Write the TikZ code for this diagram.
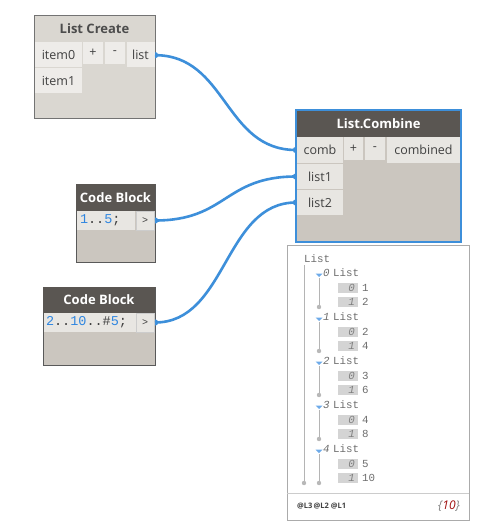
\documentclass[tikz,border=0pt]{standalone}
\usepackage{fontspec}
\setmainfont{Open Sans}
\newfontfamily\monof{Liberation Mono}
\usetikzlibrary{calc}
\definecolor{wire}{HTML}{3D8FDA}
\definecolor{darkhead}{HTML}{5A5652}
\definecolor{selbody}{HTML}{CBC6BF}
\definecolor{lightbody}{HTML}{DAD7D1}
\definecolor{cellc}{HTML}{E8E6E2}
\definecolor{lcell}{HTML}{EEECE9}
\definecolor{codeblue}{HTML}{2F86E0}
\definecolor{wgray}{HTML}{6E6E6E}
\definecolor{wline}{HTML}{B4B4B4}
\definecolor{idxbox}{HTML}{D4D4D4}
\definecolor{dred}{HTML}{A01010}
\tikzset{
  box/.style={anchor=north west, inner sep=0pt, outer sep=0pt},
  celltxt/.style={box, font=\fontsize{12.5}{15}\selectfont, text=black!75},
  title/.style={box, font=\fontsize{13}{15}\selectfont\bfseries},
  code/.style={box, font=\monof\fontsize{13.5}{15}\selectfont, text=black!75},
  wtxt/.style={anchor=west, inner sep=0pt, font=\monof\fontsize{10.8}{12}\selectfont, text=wgray},
  widx/.style={anchor=east, inner sep=0pt, font=\monof\itshape\fontsize{10.8}{12}\selectfont, text=gray},
  wirestyle/.style={draw=wire, line width=2.6pt},
  portdot/.style={fill=wire},
}
\begin{document}
\begin{tikzpicture}[x=1pt,y=-1pt]
\useasboundingbox (0,0) rectangle (496,532);
\fill[white] (0,0) rectangle (496,532);

% ---------- List Create ----------
\node[box, fill=lightbody, draw=black!55, line width=0.8pt, minimum width=121pt, minimum height=103pt] (lc) at (34,15) {};
\node[title, minimum width=121pt, minimum height=27pt, text=black!70] (lcT) at (34,15) {List Create};
\node[celltxt, fill=lcell, minimum width=47pt, minimum height=25pt] (lcI0) at (35,42) {item0};
\node[celltxt, fill=lcell, minimum width=20pt, minimum height=22pt] (lcP) at (83,42) {+};
\node[celltxt, fill=lcell, minimum width=20pt, minimum height=22pt] (lcM) at (105,42) {-};
\node[celltxt, fill=lcell, minimum width=28pt, minimum height=25pt] (lcO) at (126.5,42) {list};
\node[celltxt, fill=lcell, minimum width=47pt, minimum height=25pt] (lcI1) at (35,68) {item1};

% ---------- List.Combine ----------
\node[box, fill=selbody, draw=wire, line width=2pt, minimum width=165pt, minimum height=132pt] (cb) at (296,110) {};
\node[title, fill=darkhead, text=white, minimum width=163pt, minimum height=26pt] (cbT) at (297,111) {List.Combine};
\node[celltxt, fill=cellc, minimum width=46pt, minimum height=26pt] (cbC) at (297,137) {comb};
\node[celltxt, fill=cellc, minimum width=19pt, minimum height=23pt] (cbP) at (344,137) {+};
\node[celltxt, fill=cellc, minimum width=20pt, minimum height=23pt] (cbM) at (365,137) {-};
\node[celltxt, fill=cellc, minimum width=73pt, minimum height=26pt] (cbO) at (387,137) {combined};
\node[celltxt, fill=cellc, minimum width=46pt, minimum height=25pt] (cbL1) at (297,164) {list1};
\node[celltxt, fill=cellc, minimum width=46pt, minimum height=25pt] (cbL2) at (297,190) {list2};

% ---------- Code Block 1 ----------
\node[box, fill=selbody, draw=black!65, line width=0.8pt, minimum width=79pt, minimum height=78pt] (c1) at (76,184) {};
\node[title, fill=darkhead, text=white, minimum width=79pt, minimum height=27pt] (c1T) at (76,184) {Code Block};
\node[code, fill=cellc, minimum width=58pt, minimum height=19pt, text width=54pt, align=left] (c1C) at (77,211) {\hspace*{1pt}\textcolor{codeblue}{1}..\textcolor{codeblue}{5};};
\node[celltxt, fill=cellc, draw=black!20, font=\monof\fontsize{10}{12}\selectfont, minimum width=18pt, minimum height=19pt] (c1O) at (136,211) {>};

% ---------- Code Block 2 ----------
\node[box, fill=selbody, draw=black!65, line width=0.8pt, minimum width=112pt, minimum height=78pt] (c2) at (43,287) {};
\node[title, fill=darkhead, text=white, minimum width=112pt, minimum height=26pt] (c2T) at (43,287) {Code Block};
\node[code, fill=cellc, minimum width=92pt, minimum height=19pt, text width=90pt, align=left] (c2C) at (44,313) {\hspace*{1pt}\textcolor{codeblue}{2}..\textcolor{codeblue}{10}..\#\textcolor{codeblue}{5};};
\node[celltxt, fill=cellc, draw=black!20, font=\monof\fontsize{10}{12}\selectfont, minimum width=18pt, minimum height=19pt] (c2O) at (136,313) {>};

% ---------- Wires ----------
\coordinate (o1) at ($(lc.north east)!0.39!(lc.south east)$);
\coordinate (o2) at (c1O.east -| c1.east);
\coordinate (o3) at (c2O.east -| c2.east);
\coordinate (i1) at (cbC.west -| cb.west);
\coordinate (i2) at (cbL1.west -| cb.west);
\coordinate (i3) at (cbL2.west -| cb.west);
\draw[wirestyle] (o1) .. controls ($(o1)+(72,0)$) and ($(i1)+(-72,0)$) .. (i1);
\draw[wirestyle] (o2) .. controls ($(o2)+(72,0)$) and ($(i2)+(-72,0)$) .. (i2);
\draw[wirestyle] (o3) .. controls ($(o3)+(72,0)$) and ($(i3)+(-72,0)$) .. (i3);
\foreach \p in {o1,o2,o3}{
  \fill[portdot] ($(\p)+(0,-3.2)$) arc[start angle=90, end angle=-90, radius=3.2pt] -- cycle;
}
\foreach \p in {i1,i2,i3}{
  \fill[portdot] ($(\p)+(0,-3.2)$) arc[start angle=90, end angle=270, radius=3.2pt] -- cycle;
}

% ---------- Watch panel ----------
\node[box, fill=white, draw=black!33, line width=0.8pt, minimum width=182pt, minimum height=275pt] (wp) at (287,245) {};
\draw[black!20, line width=0.8pt] (287,493) -- (469,493);
\node[wtxt] (wRoot) at (304,259) {List};
\draw[wline, line width=0.9pt] (304,265) -- (304,483);
\fill[black!28] (304,483) circle (2.2pt);
\foreach \k/\a/\b in {0/1/2,1/2/4,2/3/6,3/4/8,4/5/10}{
  \pgfmathsetmacro{\hy}{273+44*\k}
  \fill[codeblue!70] (315.5,\hy+0.5) -- (322.5,\hy+0.5) -- (319,\hy+4) -- cycle;
  \draw[wline, line width=0.9pt] (319,\hy+5) -- (319,\hy+34);
  \fill[black!28] (319,\hy+34) circle (2.2pt);
  \node[wtxt, font=\monof\itshape\fontsize{10.8}{12}\selectfont] (g\k) at (323,\hy) {\k};
  \node[wtxt] (gl\k) at (333,\hy) {List};
  \fill[idxbox] (338,\hy+10) rectangle (358,\hy+20);
  \fill[idxbox] (338,\hy+24) rectangle (358,\hy+34);
  \node[widx] (ia\k) at (355,\hy+15) {0};
  \node[widx] (ib\k) at (355,\hy+29) {1};
  \node[wtxt] (va\k) at (362,\hy+15) {\a};
  \node[wtxt] (vb\k) at (362,\hy+29) {\b};
}
\node[anchor=west, inner sep=0pt, font=\fontsize{7.5}{9}\selectfont\bfseries, text=black!75] (lv) at (297,506) {@L3\,@L2 @L1};
\node[anchor=east, inner sep=0pt, font=\fontsize{12}{14}\selectfont\itshape] (cnt) at (460,506) {\textcolor{black!50}{\{}\textcolor{dred}{10}\textcolor{black!50}{\}}};
\end{tikzpicture}
\end{document}
